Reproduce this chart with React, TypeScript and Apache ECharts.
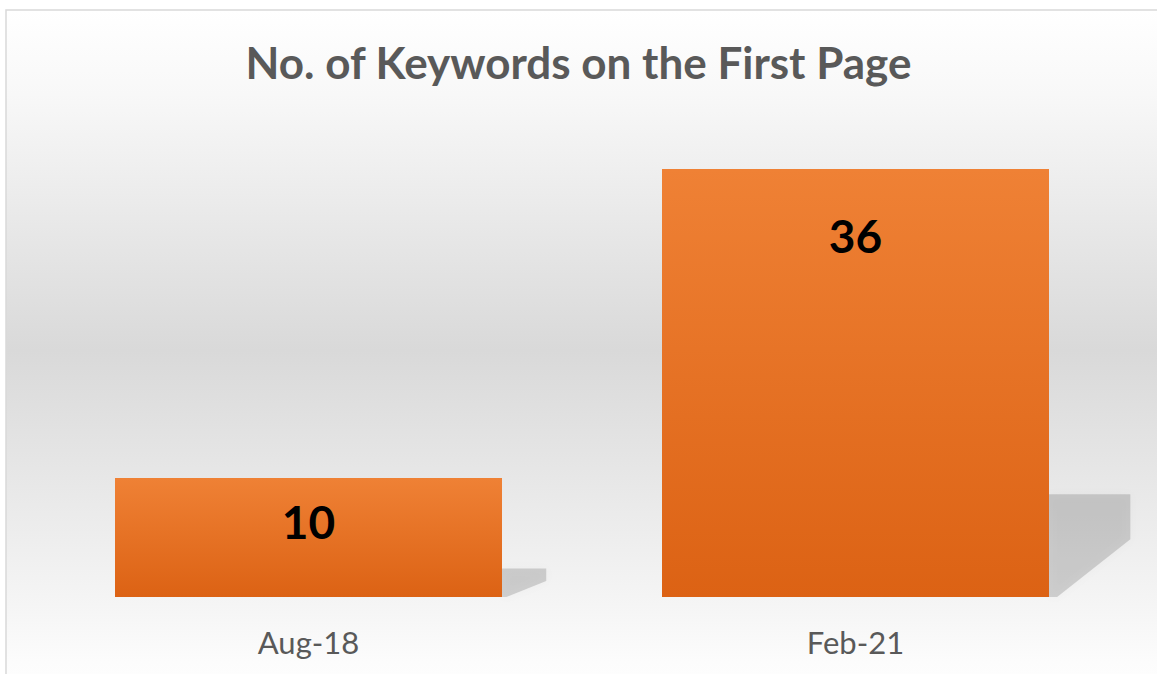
import React, { useEffect, useRef } from "react";
import * as echarts from "echarts";

const categories = ["Aug-18", "Feb-21"];
const values = [10, 36];
const labelDistances = [20, 43];
const titleText = "No. of Keywords on the First Page";

export default function App() {
  const ref = useRef<HTMLDivElement>(null);
  useEffect(() => {
    if (!ref.current) return;
    const chart = echarts.init(ref.current, undefined, { renderer: "svg" });
    const BAR_W = 387;
    chart.setOption({
      animation: false,
      backgroundColor: "#ffffff",
      title: {
        text: titleText,
        left: "center",
        top: 36,
        padding: 0,
        textStyle: {
          fontFamily: "Lato",
          fontWeight: "bold",
          fontSize: 44,
          lineHeight: 52,
          color: "#595959",
        },
      },
      graphic: [
        {
          type: "rect",
          z: -10,
          silent: true,
          shape: { x: 6, y: 10, width: 1170, height: 700 },
          style: {
            stroke: "#d9d9d9",
            lineWidth: 1.5,
            fill: {
              type: "linear",
              x: 0,
              y: 0,
              x2: 0,
              y2: 1,
              colorStops: [
                { offset: 0, color: "#ffffff" },
                { offset: 0.12, color: "#f8f8f8" },
                { offset: 0.486, color: "#d9d9d9" },
                { offset: 0.85, color: "#f5f5f5" },
                { offset: 0.93, color: "#fcfcfc" },
                { offset: 1, color: "#ffffff" },
              ],
            },
          },
        },
      ],
      grid: { left: 35, right: 28, top: 169, bottom: 77 },
      xAxis: {
        type: "category",
        data: categories,
        axisLine: { show: false },
        axisTick: { show: false },
        axisLabel: {
          fontFamily: "Lato",
          fontSize: 31,
          lineHeight: 36,
          color: "#595959",
          margin: 27,
        },
      },
      yAxis: {
        type: "value",
        min: 0,
        max: 36,
        show: false,
        splitLine: { show: false },
      },
      series: [
        {
          type: "custom",
          z: 1,
          silent: true,
          data: values.map((v, i) => [i, v]),
          renderItem: (params: any, api: any) => {
            const idx = api.value(0);
            const top = api.coord([idx, api.value(1)]);
            const base = api.coord([idx, 0]);
            const h = base[1] - top[1];
            const right = base[0] + BAR_W / 2;
            const off = 30 + 0.12 * h;
            const by = base[1];
            return {
              type: "polygon",
              shape: {
                points: [
                  [right, by - 0.24 * h],
                  [right + off, by - 0.24 * h],
                  [right + off, by - 0.135 * h],
                  [right + 0.1 * off, by],
                  [right, by],
                ],
              },
              style: {
                fill: "rgba(0,0,0,0.15)",
                shadowBlur: 10,
                shadowColor: "rgba(0,0,0,0.15)",
              },
            };
          },
        },
        {
          type: "bar",
          z: 3,
          barWidth: BAR_W,
          data: values.map((v, i) => ({
            value: v,
            label: { distance: labelDistances[i] },
          })),
          itemStyle: {
            color: {
              type: "linear",
              x: 0,
              y: 0,
              x2: 0,
              y2: 1,
              colorStops: [
                { offset: 0, color: "#ef8135" },
                { offset: 1, color: "#dc6214" },
              ],
            },
          },
          label: {
            show: true,
            position: "insideTop",
            fontFamily: "Lato",
            fontWeight: "bold",
            fontSize: 46,
            lineHeight: 46,
            color: "#000000",
          },
        },
      ],
    });
    return () => chart.dispose();
  }, []);
  return (
    <div
      ref={ref}
      style={{ position: "fixed", left: 0, top: 0, width: 1157, height: 674 }}
    />
  );
}
